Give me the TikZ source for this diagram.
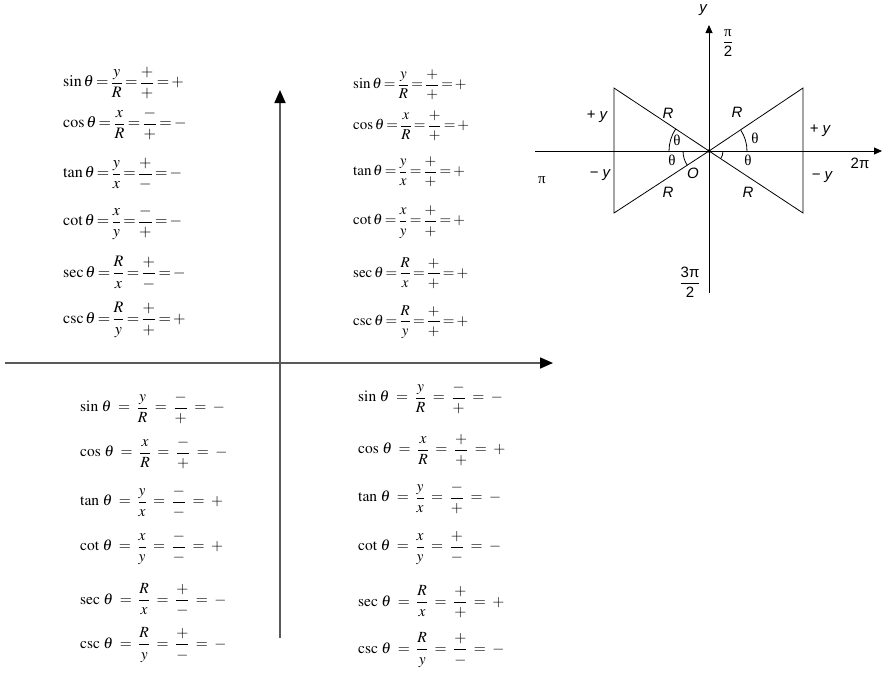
\documentclass[tikz,border=0pt]{standalone}
\usepackage{amsmath}
\usepackage{mathptmx}
\usepackage[no-math]{fontspec}
\setmainfont{Liberation Serif}
\newfontfamily\diagsans{Liberation Sans}
\usetikzlibrary{arrows.meta}
% tight and wide equals signs for the two table styles
\newcommand{\teq}{\mskip-1.5mu=\mskip-1.5mu}
\newcommand{\weq}{\mskip3.5mu=\mskip3.5mu}

\begin{document}
\begin{tikzpicture}[x=1pt, y=-1pt,
  eqn/.style={anchor=west, inner sep=0pt, font=\fontsize{15}{18}\selectfont},
  bigeqn/.style={eqn, font=\fontsize{16}{19}\selectfont},
  weqn/.style={eqn, font=\fontsize{15.5}{19}\selectfont},
  lbl/.style={font=\diagsans\fontsize{15}{17}\selectfont, inner sep=1pt},
  grk/.style={font=\fontsize{15}{17}\selectfont, inner sep=1pt},
  bigaxis/.style={line width=1.6pt, draw=black!65,
                  -{Triangle[length=13pt, width=11pt, color=black]}},
  smallaxis/.style={line width=0.8pt, -{Triangle[length=8pt, width=7pt]}},
  tri/.style={line width=0.8pt, line join=miter}
]
  \useasboundingbox (0,0) rectangle (883,672);

  % big cross
  \coordinate (hl) at (5,363);
  \coordinate (hr) at (553,363);
  \coordinate (vb) at (280,638);
  \coordinate (vt) at (280,90);
  \draw[bigaxis] (hl) -- (hr);
  \draw[bigaxis] (vb) -- (vt);

  % second quadrant
  \node[bigeqn] (tl1) at (63,83)  {$\sin\theta\teq\dfrac{y}{R}\teq\dfrac{+}{+}\teq+$};
  \node[bigeqn] (tl2) at (63,124) {$\cos\theta\teq\dfrac{x}{R}\teq\dfrac{-}{+}\teq-$};
  \node[bigeqn] (tl3) at (63,174) {$\tan\theta\teq\dfrac{y}{x}\teq\dfrac{+}{-}\teq-$};
  \node[bigeqn] (tl4) at (63,223) {$\cot\theta\teq\dfrac{x}{y}\teq\dfrac{-}{+}\teq-$};
  \node[bigeqn] (tl5) at (63,273) {$\sec\theta\teq\dfrac{R}{x}\teq\dfrac{+}{-}\teq-$};
  \node[bigeqn] (tl6) at (63,320) {$\csc\theta\teq\dfrac{R}{y}\teq\dfrac{+}{+}\teq+$};

  % first quadrant
  \node[eqn] (tr1) at (353,85)  {$\sin\theta\teq\dfrac{y}{R}\teq\dfrac{+}{+}\teq+$};
  \node[eqn] (tr2) at (353,126) {$\cos\theta\teq\dfrac{x}{R}\teq\dfrac{+}{+}\teq+$};
  \node[eqn] (tr3) at (353,172) {$\tan\theta\teq\dfrac{y}{x}\teq\dfrac{+}{+}\teq+$};
  \node[eqn] (tr4) at (353,222) {$\cot\theta\teq\dfrac{x}{y}\teq\dfrac{+}{+}\teq+$};
  \node[eqn] (tr5) at (353,273) {$\sec\theta\teq\dfrac{R}{x}\teq\dfrac{+}{+}\teq+$};
  \node[eqn] (tr6) at (353,322) {$\csc\theta\teq\dfrac{R}{y}\teq\dfrac{+}{+}\teq+$};

  % third quadrant
  \node[weqn] (bl1) at (80,408) {$\sin\,\theta\weq\dfrac{y}{R}\weq\dfrac{-}{+}\weq-$};
  \node[weqn] (bl2) at (80,453) {$\cos\,\theta\weq\dfrac{x}{R}\weq\dfrac{-}{+}\weq-$};
  \node[weqn] (bl3) at (80,502) {$\tan\,\theta\weq\dfrac{y}{x}\weq\dfrac{-}{-}\weq+$};
  \node[weqn] (bl4) at (80,548) {$\cot\,\theta\weq\dfrac{x}{y}\weq\dfrac{-}{-}\weq+$};
  \node[weqn] (bl5) at (80,600) {$\sec\,\theta\weq\dfrac{R}{x}\weq\dfrac{+}{-}\weq-$};
  \node[weqn] (bl6) at (80,645) {$\csc\,\theta\weq\dfrac{R}{y}\weq\dfrac{+}{-}\weq-$};

  % fourth quadrant
  \node[weqn] (br1) at (358,398) {$\sin\,\theta\weq\dfrac{y}{R}\weq\dfrac{-}{+}\weq-$};
  \node[weqn] (br2) at (358,450) {$\cos\,\theta\weq\dfrac{x}{R}\weq\dfrac{+}{+}\weq+$};
  \node[weqn] (br3) at (358,498) {$\tan\,\theta\weq\dfrac{y}{x}\weq\dfrac{-}{+}\weq-$};
  \node[weqn] (br4) at (358,548) {$\cot\,\theta\weq\dfrac{x}{y}\weq\dfrac{+}{-}\weq-$};
  \node[weqn] (br5) at (358,602) {$\sec\,\theta\weq\dfrac{R}{x}\weq\dfrac{+}{+}\weq+$};
  \node[weqn] (br6) at (358,650) {$\csc\,\theta\weq\dfrac{R}{y}\weq\dfrac{+}{-}\weq-$};

  % small diagram
  \coordinate (O) at (709,151);
  \coordinate (yb) at (709,293);
  \coordinate (yt) at (709,25);
  \coordinate (xl) at (535,151);
  \coordinate (xr) at (882,151);
  \coordinate (lt) at (614,88);
  \coordinate (lb) at (614,213);
  \coordinate (rt) at (803,88);
  \coordinate (rb) at (803,213);
  \draw[smallaxis] (yb) -- (yt);
  \draw[smallaxis] (xl) -- (xr);
  \draw[tri] (O) -- (lt) -- (lb) -- cycle;
  \draw[tri] (O) -- (rt) -- (rb) -- cycle;
  \fill (O) circle[radius=1.8pt];

  % angle marks
  \draw[line width=0.8pt] ([xshift=-40pt]O) arc[start angle=180, end angle=146.7, radius=40pt];
  \draw[line width=0.8pt] ([xshift=-26pt]O) arc[start angle=180, end angle=213.3, radius=26pt];
  \draw[line width=0.8pt] ([xshift=38pt]O) arc[start angle=0, end angle=33.3, radius=38pt];
  \draw[line width=0.8pt] ([xshift=14pt]O) arc[start angle=0, end angle=-33.3, radius=14pt];

  % labels
  \node[lbl] (ylab) at (703,10) {\itshape y};
  \node[grk] (halfpi) at (728,43) {$\dfrac{\mbox{π}}{\mbox{\diagsans 2}}$};
  \node[grk] (threehalf) at (690,282) {$\dfrac{\mbox{\diagsans 3π}}{\mbox{\diagsans 2}}$};
  \node[grk] (pilab) at (542,180) {π};
  \node[lbl] (twopi) at (860,163) {2π};
  \node[lbl] (pyl) at (597,117) {+ \itshape y};
  \node[lbl] (nyl) at (600,175) {\textminus{} \itshape y};
  \node[lbl] (pyr) at (820,131) {+ \itshape y};
  \node[lbl] (nyr) at (822,177) {\textminus{} \itshape y};
  \node[lbl] (rul) at (668,113) {\itshape R};
  \node[lbl] (rur) at (737,112) {\itshape R};
  \node[lbl] (rll) at (668,192) {\itshape R};
  \node[lbl] (rlr) at (748,192) {\itshape R};
  \node[lbl] (olab) at (693,173) {\itshape O};
  \node[grk] (tul) at (677,140) {θ};
  \node[grk] (tll) at (672,160) {θ};
  \node[grk] (tur) at (755,138) {θ};
  \node[grk] (tlr) at (748,160) {θ};
\end{tikzpicture}
\end{document}
